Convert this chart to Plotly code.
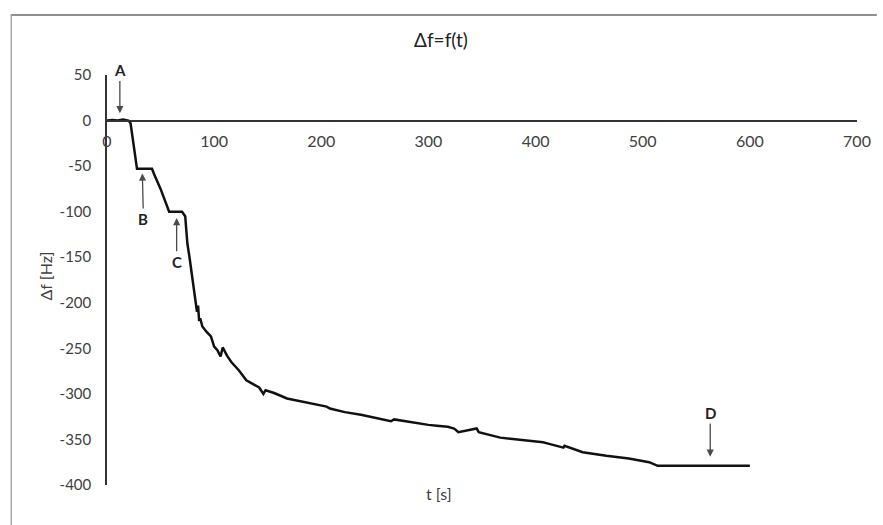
import plotly.graph_objects as go

# data
t_s = [0, 5, 10, 15, 20, 22, 28, 42, 44, 50, 58, 70, 73, 75, 77, 80, 83, 84, 85, 86, 87, 89,
       93, 97, 100, 103, 106, 108, 112, 116, 123, 130, 142, 146, 148, 156, 168, 181, 195, 205,
       208, 222, 237, 250, 265, 268, 287, 300, 308, 318, 324, 328, 345, 347, 367, 385, 407, 410,
       426, 427, 444, 466, 487, 506, 514, 530, 560, 600]
df_hz = [0, 0.5, 0, 1, 0, -3, -53, -53, -59, -75, -100, -100, -105, -135, -150, -175, -197, -210,
         -203, -220, -217, -226, -232, -237, -248, -252, -259, -249, -258, -265, -274, -285, -293,
         -300, -296, -299, -305, -308, -311, -314, -316, -320, -323, -326, -330, -328, -332, -334,
         -335, -336, -338, -342, -338, -342, -348, -350, -353, -354, -359, -357, -364, -368, -371,
         -375, -379, -379, -379, -379]

x_ticks = [0, 100, 200, 300, 400, 500, 600, 700]
y_ticks = [50, 0, -50, -100, -150, -200, -250, -300, -350, -400]
y_tick_text = ["50", "0", "-50", "-100", "-150", "-200", "-250", "-300", "-350", "-400"]

# annotations: label, tip (t, f), tail (t, f)
markers = ["A", "B", "C", "D"]
tip_t = [12, 33, 65, 563]
tip_f = [8, -58, -107, -369]
tail_t = [12, 34, 65, 563]
tail_f = [55, -108, -155, -321]

FONT = "Lato, 'Open Sans', sans-serif"
TXT = "#404040"

fig = go.Figure()
fig.add_trace(go.Scatter(x=t_s, y=df_hz, mode="lines",
                         line=dict(color="#111111", width=2.5), showlegend=False,
                         hoverinfo="skip"))

for lab, xt, yt, xa, ya in zip(markers, tip_t, tip_f, tail_t, tail_f):
    fig.add_annotation(x=xt, y=yt, ax=xa, ay=ya, axref="x", ayref="y", xref="x", yref="y",
                       text="<b>%s</b>" % lab, showarrow=True, arrowhead=2, arrowsize=1.1,
                       arrowwidth=1.3, arrowcolor="#4a4a4a",
                       font=dict(family=FONT, size=15, color="#222222"))

L, R, T, B = 107, 20, 75, 40
W, H = 883, 525
pw, ph = W - L - R, H - T - B

def px_x(p):
    return (p - L) / pw

def px_y(p):
    return (H - B - p) / ph

# outer frame (top and left edges visible in the reference)
fig.add_shape(type="line", xref="paper", yref="paper", x0=px_x(10), x1=px_x(883),
              y0=px_y(15), y1=px_y(15), line=dict(color="#6a6a6a", width=1.5))
fig.add_shape(type="line", xref="paper", yref="paper", x0=px_x(10.5), x1=px_x(10.5),
              y0=px_y(15), y1=px_y(525), line=dict(color="#aaaaaa", width=1.5))

fig.add_annotation(text="t [s]", xref="paper", yref="paper", x=px_x(442), y=px_y(493),
                   xanchor="center", yanchor="middle",
                   showarrow=False, font=dict(family=FONT, size=16, color=TXT))
fig.add_annotation(text="Δf [Hz]", xref="paper", yref="paper", x=px_x(45), y=px_y(276),
                   xanchor="center", yanchor="middle",
                   textangle=-90, showarrow=False, font=dict(family=FONT, size=16, color=TXT))

fig.update_layout(
    width=W, height=H,
    margin=dict(l=L, r=R, t=T, b=B),
    paper_bgcolor="white", plot_bgcolor="white",
    title=dict(text="Δf=f(t)", x=441 / W, xref="container", xanchor="center", y=1 - 40 / H,
               yref="container", yanchor="middle",
               font=dict(family=FONT, size=19, color="#222222")),
    font=dict(family=FONT, size=16, color=TXT),
)
fig.update_xaxes(range=[0, 700], tickvals=x_ticks, showgrid=False, zeroline=False,
                 showline=True, linecolor="#333333", linewidth=1.5,
                 anchor="free", position=400 / 450,
                 ticks="outside", ticklen=6, tickcolor="rgba(0,0,0,0)",
                 tickfont=dict(family=FONT, size=16, color=TXT))
fig.update_yaxes(range=[-400, 50], tickvals=y_ticks, ticktext=y_tick_text,
                 showgrid=False, zeroline=False,
                 showline=True, linecolor="#333333", linewidth=1.5,
                 ticks="outside", ticklen=11, tickcolor="rgba(0,0,0,0)",
                 tickfont=dict(family=FONT, size=15, color=TXT))

fig.write_html("out.html")
